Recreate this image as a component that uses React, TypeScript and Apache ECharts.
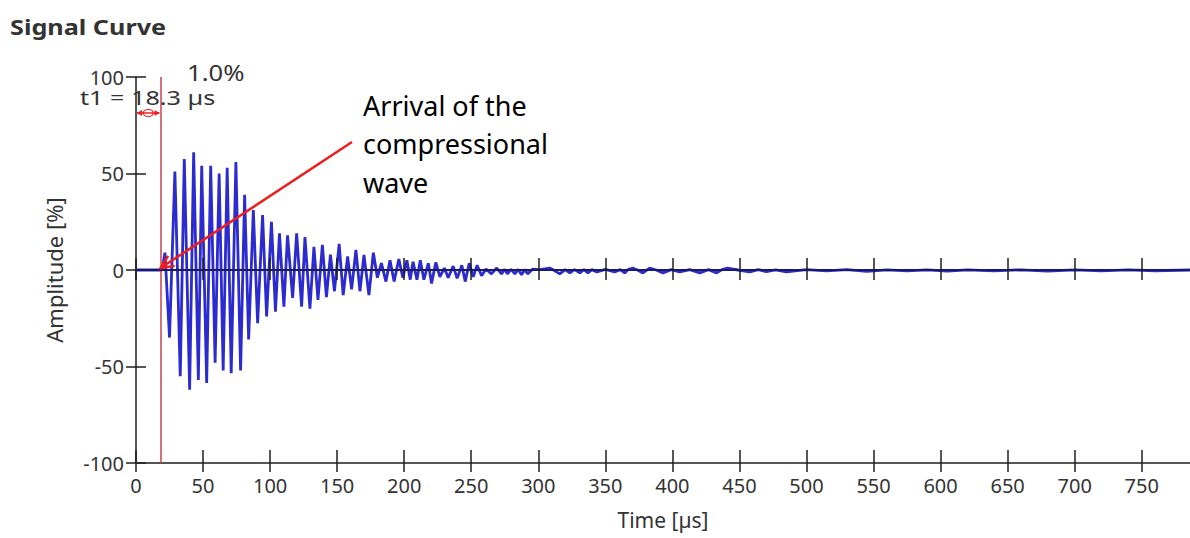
import React, { useEffect, useRef } from "react";
import * as echarts from "echarts";

// ---- chart content ----
const TITLE = "Signal Curve";
const X_NAME = "Time [µs]";
const Y_NAME = "Amplitude [%]";
const X_MIN = 0;
const X_MAX = 786;
const X_TICKS = [0, 50, 100, 150, 200, 250, 300, 350, 400, 450, 500, 550, 600, 650, 700, 750];
const Y_TICKS = [-100, -50, 0, 50, 100];
const T1 = 18.3;
const T1_LABEL = "t1 = 18.3 µs";
const LEVEL_LABEL = "1.0%";
const NOTE_LINES = ["Arrival of the", "compressional", "wave"];

// Recorded waveform: time [µs] and amplitude [%] at successive extrema
const times = [
  0, 19.5, 21.6, 25, 29, 33, 36, 40, 43, 46.5, 49, 52.7, 55.7, 59, 62, 65, 68, 71,
  74.5, 78, 81, 84, 87.5, 90.7, 94.4, 97.4, 101, 104, 107, 110.3, 113, 116.8, 119.8,
  123.5, 126, 129.7, 132.7, 135.7, 139, 142, 145, 148, 151.5, 154.5, 157.8, 160.8,
  164, 167, 170, 173.7, 177, 180, 183, 186.4, 189.4, 192.5, 196, 199, 202, 204.5,
  206.6, 209.5, 212, 214.7, 218, 220.4, 223.6, 226.6, 230, 232.8, 236.5, 239.5, 243,
  245.5, 248.5, 251.5, 254.4, 257.7, 261, 265, 269, 272.6, 275, 277, 279.7, 282.5,
  285, 287.5, 290, 292, 296, 301, 308.6, 312, 316, 320, 323.5, 327, 331, 334, 337,
  340, 343.7, 350, 357, 361, 364.5, 367, 370.5, 374, 378, 383, 388, 393, 399, 405.5,
  413, 420.4, 427, 433, 437, 441, 449, 457.7, 464, 470, 477, 485, 500, 515, 530, 545,
  560, 575, 590, 605, 620, 640, 660, 680, 700, 720, 740, 760, 786,
];
const amps = [
  0, 0, 9, -35, 51, -55, 57.5, -62, 61, -57, 54, -58.5, 54, -48, 50, -52, 53, -53.5,
  56, -52, 39, -36, 31, -27.5, 28.5, -24, 25, -21.6, 19, -19, 18, -14.5, 19,
  -19, 17, -20, 12, -15.5, 13, -14, 8, -11, 13.5, -13, 7, -10,
  10.4, -11, 7.8, -13, 9, -4, 3.6, -6, 5, -6, 5.7, -4, 5, -5,
  4.3, -5, 5, -5, 3.5, -7, 4, -3.5, 1, -4, 2, -4.3, 2.5,
  -6, 3.5, -3.5, 2.5, -3, 0.5, -2, 1, -2, 0.3, -2, 0.3, -2,
  0.3, -2.5, 0.3, -2, 0.5, 0.2, 1, -0.3, -2, 0.2, -1.5, 0.2, -1.5, 0.2, -1.5,
  0.2, -1, 0.3, -1, 0.2, -1.5, 0.2, 1, 0, -1.5, 1, 0, -1.5, 0.2, -1,
  0.2, -1.5, 0.2, -1.5, 0.2, 1, 0, -1, 0.2, -0.8, 0.1, -1, 0.2, -0.5, 0.2, -0.7,
  0.1, -0.5, 0.1, -0.6, 0.1, -0.5, 0.1, -0.6, 0.1, -0.5, 0.1, -0.4, 0,
];

// ---- styling ----
const FONT = "'Noto Sans', 'Open Sans', sans-serif";
const TEXT_COLOR = "#333333";
const AXIS_COLOR = "#1e1e1e";
const ZERO_COLOR = "#1a1a62";
const SIGNAL_COLOR = "#2b2bd0";
const MARK_COLOR = "#c8404e";
const NOTE_COLOR = "#ee1c1c";

const axisText = { color: TEXT_COLOR, fontSize: 20, fontFamily: FONT };

function buildOption(): echarts.EChartsOption {
  const xBase = {
    type: "value" as const,
    min: X_MIN,
    max: X_MAX,
    interval: 50,
    position: "bottom" as const,
    splitLine: { show: false },
  };
  const yBase = {
    type: "value" as const,
    min: -100,
    max: 100,
    interval: 50,
    position: "left" as const,
    splitLine: { show: false },
  };
  return {
    animation: false,
    backgroundColor: "#ffffff",
    grid: { left: 136, right: 0, top: 77, bottom: 75 },
    xAxis: [
      {
        ...xBase,
        axisLine: { onZero: false, lineStyle: { color: AXIS_COLOR, width: 1.5 } },
        axisTick: { inside: false, length: 9, customValues: X_TICKS, lineStyle: { color: AXIS_COLOR, width: 1.5 } },
        axisLabel: { ...axisText, margin: 12, customValues: X_TICKS },
        name: X_NAME,
        nameLocation: "middle",
        nameGap: 46,
        nameTextStyle: { ...axisText, fontSize: 21 },
      },
      {
        ...xBase,
        axisLine: { show: false, onZero: false },
        axisTick: { inside: true, length: 13, customValues: X_TICKS, lineStyle: { color: AXIS_COLOR, width: 1.5 } },
        axisLabel: { show: false },
      },
      {
        ...xBase,
        z: 6,
        axisLine: { onZero: true, onZeroAxisIndex: 0, lineStyle: { color: ZERO_COLOR, width: 2 } },
        axisTick: { inside: true, length: 12, customValues: X_TICKS, lineStyle: { color: AXIS_COLOR, width: 1.5 } },
        axisLabel: { show: false },
      },
      {
        ...xBase,
        z: 6,
        axisLine: { onZero: true, onZeroAxisIndex: 0, lineStyle: { color: ZERO_COLOR, width: 2 } },
        axisTick: { inside: false, length: 10, customValues: X_TICKS, lineStyle: { color: AXIS_COLOR, width: 1.5 } },
        axisLabel: { show: false },
      },
    ],
    yAxis: [
      {
        ...yBase,
        axisLine: { onZero: false, lineStyle: { color: AXIS_COLOR, width: 1.5 } },
        axisTick: { inside: false, length: 10, customValues: Y_TICKS, lineStyle: { color: AXIS_COLOR, width: 1.5 } },
        axisLabel: { ...axisText, margin: 12, customValues: Y_TICKS },
        name: Y_NAME,
        nameLocation: "middle",
        nameRotate: 90,
        nameGap: 71,
        nameTextStyle: { ...axisText, fontSize: 22 },
      },
      {
        ...yBase,
        axisLine: { show: false, onZero: false },
        axisTick: { inside: true, length: 10, customValues: Y_TICKS, lineStyle: { color: AXIS_COLOR, width: 1.5 } },
        axisLabel: { show: false },
      },
    ],
    series: [
      {
        type: "line",
        xAxisIndex: 0,
        yAxisIndex: 0,
        data: times.map((t, i) => [t, amps[i]]),
        symbol: "none",
        showSymbol: false,
        z: 3,
        lineStyle: { color: SIGNAL_COLOR, width: 2.8 },
        markLine: {
          silent: true,
          symbol: "none",
          label: { show: false },
          lineStyle: { color: MARK_COLOR, width: 1.5, type: "solid" },
          data: [{ xAxis: T1 }],
        },
      },
    ],
  };
}

function buildGraphic(chart: echarts.ECharts) {
  const toPx = (x: number, y: number) =>
    chart.convertToPixel({ xAxisIndex: 0, yAxisIndex: 0 }, [x, y]) as number[];
  const [xStart, yTop] = toPx(0, 100);
  const [xT1, yZero] = toPx(T1, 0);

  // t1 span indicator (double arrow with small ring)
  const spanY = yTop + 36;
  const ah = 5;
  const spanEls: any[] = [
    { type: "line", shape: { x1: xStart + 1, y1: spanY, x2: xT1 - 1, y2: spanY }, style: { stroke: NOTE_COLOR, lineWidth: 1.5 } },
    { type: "polygon", shape: { points: [[xStart + 1, spanY], [xStart + 1 + ah, spanY - 3], [xStart + 1 + ah, spanY + 3]] }, style: { fill: NOTE_COLOR } },
    { type: "polygon", shape: { points: [[xT1 - 1, spanY], [xT1 - 1 - ah, spanY - 3], [xT1 - 1 - ah, spanY + 3]] }, style: { fill: NOTE_COLOR } },
    { type: "ellipse", shape: { cx: (xStart + xT1) / 2, cy: spanY, rx: 5, ry: 3.5 }, style: { fill: "none", stroke: NOTE_COLOR, lineWidth: 1.2 } },
  ];

  // annotation arrow pointing at the first arrival
  const tail = [352, 142];
  const tip = [xT1, yZero - 2];
  const dx = tip[0] - tail[0];
  const dy = tip[1] - tail[1];
  const len = Math.hypot(dx, dy);
  const ux = dx / len;
  const uy = dy / len;
  const L = 13;
  const W = 6;
  const head = [
    [tip[0] - L * ux + W * uy, tip[1] - L * uy - W * ux],
    [tip[0], tip[1]],
    [tip[0] - L * ux - W * uy, tip[1] - L * uy + W * ux],
  ];

  return [
    {
      type: "text",
      x: 10,
      y: 27,
      scaleX: 1.2,
      style: { text: TITLE, fill: TEXT_COLOR, font: `bold 21px ${FONT}`, textVerticalAlign: "middle" },
    },
    ...spanEls,
    {
      type: "text",
      x: 80,
      y: yTop + 21,
      scaleX: 1.26,
      style: { text: T1_LABEL, fill: TEXT_COLOR, font: `20px ${FONT}`, textVerticalAlign: "middle" },
      z: 10,
    },
    {
      type: "text",
      x: 187,
      y: yTop - 4,
      scaleX: 1.22,
      style: { text: LEVEL_LABEL, fill: TEXT_COLOR, font: `21px ${FONT}`, textVerticalAlign: "middle" },
      z: 10,
    },
    {
      type: "line",
      shape: { x1: tail[0], y1: tail[1], x2: tip[0], y2: tip[1] },
      style: { stroke: NOTE_COLOR, lineWidth: 2.5 },
      z: 10,
    },
    {
      type: "polyline",
      shape: { points: head },
      style: { stroke: NOTE_COLOR, lineWidth: 2.5, fill: "none" },
      z: 10,
    },
    {
      type: "text",
      x: 363,
      y: 86,
      style: {
        text: NOTE_LINES.join("\n"),
        fill: "#000000",
        font: `27px ${FONT}`,
        lineHeight: 38.5,
        textVerticalAlign: "top",
      },
      z: 10,
    },
  ];
}

export default function App() {
  const ref = useRef<HTMLDivElement>(null);
  useEffect(() => {
    document.body.style.margin = "0";
    if (!ref.current) return;
    const chart = echarts.init(ref.current, undefined, { renderer: "svg" });
    chart.setOption(buildOption());
    chart.setOption({ graphic: buildGraphic(chart) });
    return () => chart.dispose();
  }, []);
  return <div ref={ref} style={{ width: 1190, height: 538 }} />;
}
